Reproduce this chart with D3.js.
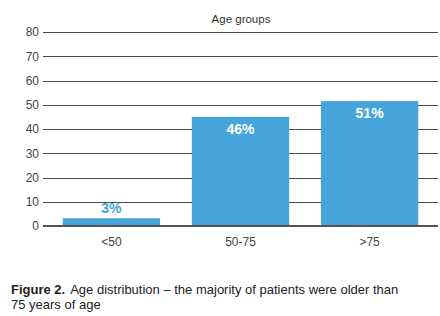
<!DOCTYPE html>
<html>
<head>
<meta charset="utf-8">
<script src="https://cdn.jsdelivr.net/npm/d3@7"></script>
<style>
  body { margin: 0; background: #fff; }
  svg { display: block; font-family: "Liberation Sans", Arial, sans-serif; }
</style>
</head>
<body>
<div id="chart"></div>
<script>
// chart data
const categories = ['<50', '50-75', '>75'];
const values = [3.2, 45, 51.5];
const valueLabels = ['3%', '46%', '51%'];
const yTicks = [0, 10, 20, 30, 40, 50, 60, 70, 80];
const chartTitle = 'Age groups';
const captionBold = 'Figure 2.';
const captionLines = ['Age distribution \u2013 the majority of patients were older than', '75 years of age'];

const W = 440, H = 316;
const margin = {top: 32, right: 2, bottom: 90, left: 43};
const width = W - margin.left - margin.right;
const height = H - margin.top - margin.bottom;
const barColor = '#45a5db';

const svg = d3.select('#chart').append('svg')
    .attr('width', W)
    .attr('height', H);

const g = svg.append('g')
    .attr('transform', `translate(${margin.left},${margin.top})`);

const x = d3.scaleBand()
    .domain(categories)
    .range([0, width])
    .paddingInner(0.246)
    .paddingOuter(0.153);

const y = d3.scaleLinear()
    .domain([0, 80])
    .range([height, 0]);

// gridlines
g.selectAll('.grid')
    .data(yTicks.filter(d => d > 0))
    .enter().append('line')
    .attr('class', 'grid')
    .attr('x1', 0)
    .attr('x2', width)
    .attr('y1', d => Math.round(y(d)) + 0.5)
    .attr('y2', d => Math.round(y(d)) + 0.5)
    .attr('stroke', '#4a4a4a')
    .attr('stroke-width', 1);

// y axis labels
const yAxis = g.append('g')
    .call(d3.axisLeft(y).tickValues(yTicks).tickSize(0).tickPadding(4));
yAxis.select('.domain').remove();
yAxis.selectAll('text')
    .attr('fill', '#444')
    .style('font-size', '12px');

// bars
g.selectAll('.bar')
    .data(values)
    .enter().append('rect')
    .attr('class', 'bar')
    .attr('x', (d, i) => x(categories[i]))
    .attr('y', d => y(d))
    .attr('width', x.bandwidth())
    .attr('height', d => height - y(d))
    .attr('fill', barColor);

// baseline
g.append('line')
    .attr('x1', 0)
    .attr('x2', width)
    .attr('y1', y(0))
    .attr('y2', y(0))
    .attr('stroke', '#555')
    .attr('stroke-width', 2);

// value labels: inside for tall bars, above for short ones
g.selectAll('.val')
    .data(values)
    .enter().append('text')
    .attr('class', 'val')
    .attr('x', (d, i) => x(categories[i]) + x.bandwidth() / 2)
    .attr('y', d => d > 10 ? y(d) + 17 : y(d) - 5)
    .attr('text-anchor', 'middle')
    .attr('fill', d => d > 10 ? '#fff' : barColor)
    .style('font-size', '14px')
    .style('font-weight', 'bold')
    .text((d, i) => valueLabels[i]);

// x axis labels
const xAxis = g.append('g')
    .attr('transform', `translate(0,${height})`)
    .call(d3.axisBottom(x).tickSize(0).tickPadding(11));
xAxis.select('.domain').remove();
xAxis.selectAll('text')
    .attr('fill', '#444')
    .style('font-size', '12px');

// title
svg.append('text')
    .attr('x', 241)
    .attr('y', 23)
    .attr('text-anchor', 'middle')
    .attr('fill', '#333')
    .style('font-size', '11.5px')
    .text(chartTitle);

// caption
const cap = svg.append('text')
    .attr('x', 11)
    .attr('y', 294)
    .attr('fill', '#222')
    .style('font-size', '13px');
cap.append('tspan')
    .style('font-weight', 'bold')
    .text(captionBold);
cap.append('tspan')
    .attr('dx', 5)
    .text(captionLines[0]);
svg.append('text')
    .attr('x', 11)
    .attr('y', 309)
    .attr('fill', '#222')
    .style('font-size', '13px')
    .text(captionLines[1]);
</script>
</body>
</html>
